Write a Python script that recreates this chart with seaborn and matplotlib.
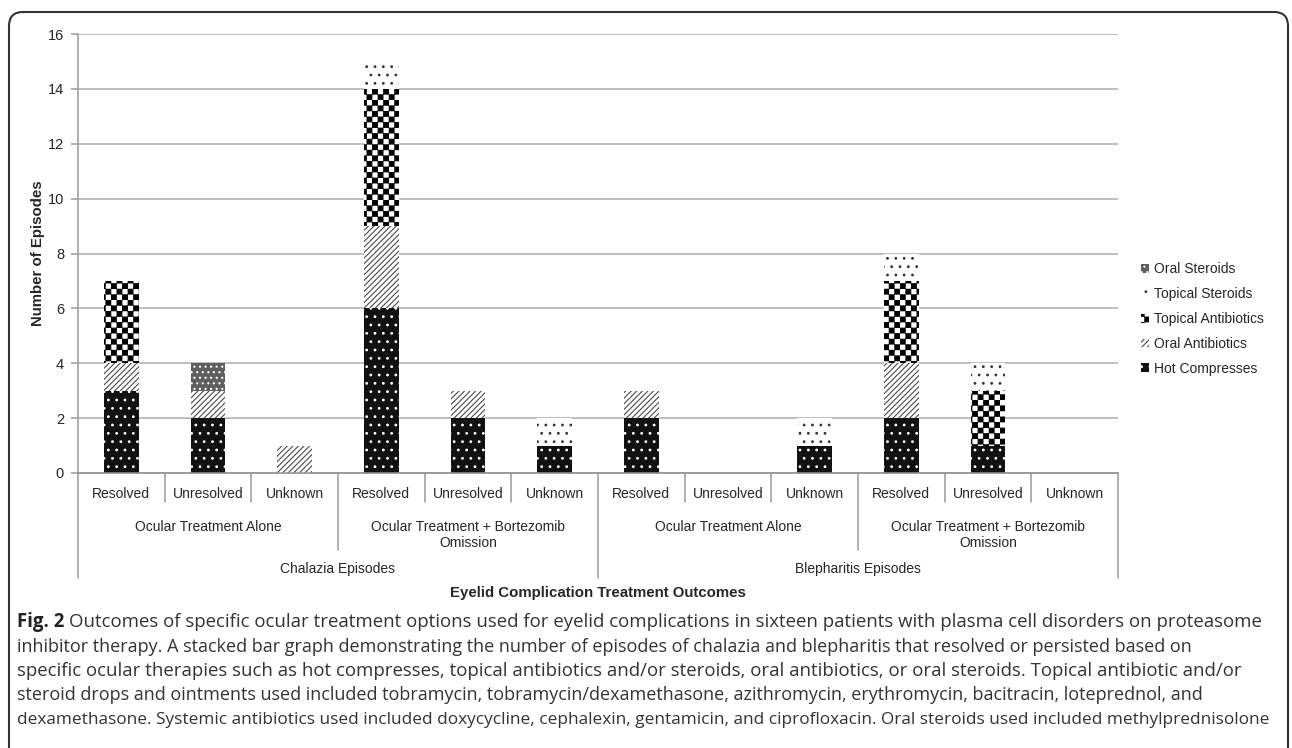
import numpy as np
import pandas as pd
import matplotlib
matplotlib.use("Agg")
import matplotlib.pyplot as plt
import matplotlib.hatch as mhatch
import matplotlib.patches as mpatches
import matplotlib.transforms as mtransforms
from matplotlib.path import Path
import seaborn as sns

# ---------------- data ----------------
categories = [f"c{i}" for i in range(12)]
level1 = ["Resolved", "Unresolved", "Unknown"] * 4
level2 = ["Ocular Treatment Alone", "Ocular Treatment + Bortezomib\nOmission"] * 2
level3 = ["Chalazia Episodes", "Blepharitis Episodes"]
series = ["Hot Compresses", "Oral Antibiotics", "Topical Antibiotics",
          "Topical Steroids", "Oral Steroids"]
hot_compresses = [3, 2, 0, 6, 2, 1, 2, 0, 1, 2, 1, 0]
oral_antibiotics = [1, 1, 1, 3, 1, 0, 1, 0, 0, 2, 0, 0]
topical_antibiotics = [3, 0, 0, 5, 0, 0, 0, 0, 0, 3, 2, 0]
topical_steroids = [0, 0, 0, 1, 0, 1, 0, 0, 1, 1, 1, 0]
oral_steroids = [0, 1, 0, 0, 0, 0, 0, 0, 0, 0, 0, 0]
yticks = [0, 2, 4, 6, 8, 10, 12, 14, 16]

caption_lines = [
    "Outcomes of specific ocular treatment options used for eyelid complications in sixteen patients with plasma cell disorders on proteasome",
    "inhibitor therapy. A stacked bar graph demonstrating the number of episodes of chalazia and blepharitis that resolved or persisted based on",
    "specific ocular therapies such as hot compresses, topical antibiotics and/or steroids, oral antibiotics, or oral steroids. Topical antibiotic and/or",
    "steroid drops and ointments used included tobramycin, tobramycin/dexamethasone, azithromycin, erythromycin, bacitracin, loteprednol, and",
    "dexamethasone. Systemic antibiotics used included doxycycline, cephalexin, gentamicin, and ciprofloxacin. Oral steroids used included methylprednisolone",
]

# ---------------- checkerboard hatch ----------------
class CheckerHatch(mhatch.HatchPatternBase):
    def __init__(self, hatch, density):
        self.n = hatch.count('O') * 18
        self.num_vertices = (self.n * self.n // 2) * 5

    def set_vertices_and_codes(self, vertices, codes):
        s = 1.0 / self.n
        sh = 0.004
        k = 0
        for i in range(self.n):
            for j in range(self.n):
                if (i + j) % 2 == 0:
                    x0, y0 = i * s + sh, j * s + sh
                    x1, y1 = (i + 1) * s - sh, (j + 1) * s - sh
                    vertices[k:k + 5] = [[x0, y0], [x1, y0], [x1, y1], [x0, y1], [x0, y0]]
                    codes[k:k + 5] = [Path.MOVETO, Path.LINETO, Path.LINETO,
                                      Path.LINETO, Path.CLOSEPOLY]
                    k += 5

mhatch._hatch_types = [t for t in mhatch._hatch_types if t is not mhatch.LargeCircles] + [CheckerHatch]

# ---------------- style ----------------
sns.set_style("white")
plt.rcParams['font.family'] = ['Liberation Sans', 'DejaVu Sans']
plt.rcParams['hatch.linewidth'] = 0.8

fig = plt.figure(figsize=(12.92, 7.48), dpi=100)
ax = fig.add_axes([78 / 1292, 1 - 473 / 748, 1040 / 1292, 439 / 748])

styles = {
    "Hot Compresses": dict(color="#111111", edgecolor="white", hatch=".."),
    "Oral Antibiotics": dict(color="white", edgecolor="#4a4a4a", hatch="//////"),
    "Topical Antibiotics": dict(color="white", edgecolor="black", hatch="O"),
    "Topical Steroids": dict(color="white", edgecolor="#333333", hatch=".."),
    "Oral Steroids": dict(color="#5e5e5e", edgecolor="white", hatch="..."),
}

values = [hot_compresses, oral_antibiotics, topical_antibiotics, topical_steroids, oral_steroids]
df = pd.DataFrame({"cat": categories})
cum = np.zeros(12)
for name, vals in zip(series, values):
    cum = cum + np.array(vals)
    df[name] = cum.copy()

for name in reversed(series):
    st = styles[name]
    sns.barplot(data=df, x="cat", y=name, order=categories, ax=ax,
                color=st["color"], edgecolor=st["edgecolor"], hatch=st["hatch"],
                linewidth=0, width=0.4, saturation=1, errorbar=None, zorder=3)

ax.set_xlim(-0.5, 11.5)
ax.set_ylim(0, 16)
ax.set_yticks(yticks)
ax.yaxis.grid(True, color="#b4b4b4", lw=1.2, zorder=0)
ax.xaxis.grid(False)
ax.set_axisbelow(True)
for s in ["top", "right"]:
    ax.spines[s].set_visible(False)
for s in ["left", "bottom"]:
    ax.spines[s].set_color("#9a9a9a")
    ax.spines[s].set_linewidth(1.1)
ax.tick_params(axis="y", length=5, color="#9a9a9a", width=1.1, labelsize=10.5, pad=5, left=True)
ax.set_xticks(range(12))
ax.set_xticklabels(level1, fontsize=10)
ax.tick_params(axis="x", length=0, pad=10)
ax.set_xlabel("")
ax.set_ylabel("Number of Episodes", fontsize=10.8, fontweight="bold")
ax.yaxis.set_label_coords(-0.0315, 0.5)

trans = mtransforms.blended_transform_factory(ax.transData, ax.transAxes)
H = 439.0
sep_col = "#9a9a9a"
for b in np.arange(-0.5, 12.0, 1.0):
    idx = int(b + 0.5)
    if idx in (0, 6, 12):
        d = 105
    elif idx in (3, 9):
        d = 77
    else:
        d = 29
    ax.plot([b, b], [0, -d / H], transform=trans, clip_on=False, color=sep_col, lw=1.1)
ax.plot([-0.5, 11.5], [0, 0], transform=trans, clip_on=False, color=sep_col, lw=1.1, zorder=5)

for g, lab in enumerate(level2):
    ax.text(3 * g + 1, -47 / H, lab, transform=trans, ha="center", va="top",
            fontsize=10, linespacing=1.2)
for g, lab in enumerate(level3):
    ax.text(6 * g + 2.5, -96 / H, lab, transform=trans, ha="center", va="center", fontsize=10)
ax.text(5.5, -120 / H, "Eyelid Complication Treatment Outcomes", transform=trans,
        ha="center", va="center", fontsize=10.8, fontweight="bold")

# legend
handles = [mpatches.Patch(facecolor=styles[n]["color"], edgecolor=styles[n]["edgecolor"],
                          hatch=styles[n]["hatch"], linewidth=0) for n in reversed(series)]
fig.legend(handles, list(reversed(series)), loc="center left",
           bbox_to_anchor=(1141 / 1292, 1 - 319 / 748), frameon=False, fontsize=10,
           handlelength=0.6, handleheight=0.6, handletextpad=0.3, labelspacing=0.78,
           borderpad=0, borderaxespad=0)

# border
border = mpatches.FancyBboxPatch((9, -60), 1279, 736 + 60, boxstyle="round,pad=0,rounding_size=14",
                                 transform=mtransforms.IdentityTransform(), facecolor="none",
                                 edgecolor="#333333", lw=1.5)
fig.patches.append(border)

# caption
cap_font = ["Open Sans", "DejaVu Sans"]
cap_sizes = [13.4, 13.0, 13.4, 13.0, 12.4]
y0 = 622
dy = 24.5
fig.canvas.draw()
r = fig.canvas.get_renderer()
t = fig.text(17 / 1292, 1 - y0 / 748, "Fig. 2", fontsize=cap_sizes[0], fontweight="bold",
             family=cap_font, va="center", ha="left", color="#222222")
bb = t.get_window_extent(renderer=r)
for i, line in enumerate(caption_lines):
    x = (bb.x1 + 5) / 1292 if i == 0 else 17 / 1292
    fig.text(x, 1 - (y0 + i * dy) / 748, line, fontsize=cap_sizes[i], family=cap_font,
             va="center", ha="left", color="#333333")

fig.savefig("out.png", dpi=100)
